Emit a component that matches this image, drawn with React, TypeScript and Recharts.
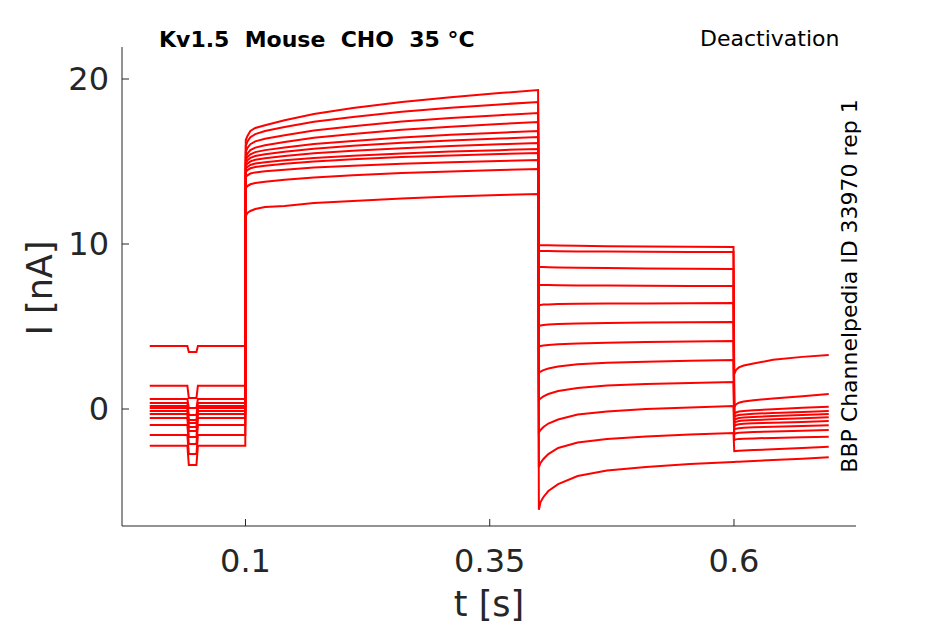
import { Line, LineChart, XAxis, YAxis } from "recharts";

// sample times per protocol segment [s]
const HOLD_T = [0.002, 0.0405, 0.042, 0.0498, 0.0513, 0.0998];
const ACT_T = [0.1003, 0.102, 0.105, 0.11, 0.12, 0.14, 0.17, 0.21, 0.26, 0.31, 0.36, 0.3995];
const TAIL_T = [0.4003, 0.402, 0.405, 0.41, 0.42, 0.44, 0.47, 0.51, 0.555, 0.5995];
const END_T = [0.6003, 0.602, 0.605, 0.61, 0.62, 0.64, 0.67, 0.697];

// holding current and the short test pulse [nA], one value per sweep
const HOLD_I = [3.82, 1.41, 0.61, 0.36, 0.18, 0.06, -0.12, -0.3, -0.55, -0.97, -1.58, -2.22];
const PULSE_I = [3.45, 0.67, 0.06, -0.36, -0.67, -0.85, -1.09, -1.33, -1.7, -2.12, -2.73, -3.39];

// activation step 0.1 - 0.4 s
const ACT_I = [
  [16.3, 16.55, 16.85, 17.03, 17.2, 17.5, 17.88, 18.24, 18.6, 18.9, 19.15, 19.33],
  [15.94, 16.21, 16.47, 16.66, 16.85, 17.09, 17.41, 17.7, 18.02, 18.26, 18.46, 18.61],
  [15.58, 15.82, 16.05, 16.22, 16.38, 16.59, 16.88, 17.14, 17.42, 17.63, 17.81, 17.94],
  [15.27, 15.48, 15.69, 15.84, 15.99, 16.18, 16.44, 16.67, 16.92, 17.11, 17.27, 17.39],
  [15.09, 15.27, 15.44, 15.57, 15.69, 15.85, 16.06, 16.25, 16.46, 16.62, 16.75, 16.85],
  [14.91, 15.07, 15.22, 15.33, 15.44, 15.59, 15.77, 15.95, 16.13, 16.28, 16.39, 16.48],
  [14.73, 14.87, 15.01, 15.11, 15.2, 15.33, 15.5, 15.65, 15.81, 15.94, 16.04, 16.12],
  [14.55, 14.67, 14.79, 14.88, 14.96, 15.07, 15.22, 15.35, 15.49, 15.6, 15.69, 15.76],
  [14.36, 14.48, 14.59, 14.67, 14.75, 14.86, 15.0, 15.13, 15.27, 15.37, 15.46, 15.52],
  [14.06, 14.16, 14.27, 14.34, 14.41, 14.5, 14.63, 14.74, 14.86, 14.96, 15.03, 15.09],
  [13.39, 13.51, 13.62, 13.7, 13.78, 13.89, 14.03, 14.16, 14.3, 14.4, 14.49, 14.55],
  [11.7, 11.88, 12.0, 12.12, 12.24, 12.3, 12.48, 12.61, 12.76, 12.88, 12.97, 13.03]
];

// tail currents 0.4 - 0.6 s
const TAIL_I = [
  [9.94, 9.93, 9.92, 9.92, 9.91, 9.89, 9.87, 9.85, 9.84, 9.82],
  [9.58, 9.57, 9.57, 9.57, 9.56, 9.55, 9.54, 9.53, 9.52, 9.52],
  [8.61, 8.6, 8.6, 8.59, 8.58, 8.56, 8.54, 8.52, 8.5, 8.48],
  [7.52, 7.52, 7.51, 7.51, 7.5, 7.49, 7.48, 7.47, 7.46, 7.45],
  [6.3, 6.31, 6.33, 6.34, 6.36, 6.38, 6.39, 6.4, 6.41, 6.42],
  [5.03, 5.06, 5.09, 5.12, 5.15, 5.19, 5.22, 5.24, 5.26, 5.27],
  [3.79, 3.82, 3.85, 3.88, 3.92, 3.97, 4.02, 4.06, 4.09, 4.12],
  [2.21, 2.27, 2.36, 2.45, 2.58, 2.71, 2.8, 2.87, 2.92, 2.97],
  [0.55, 0.64, 0.76, 0.91, 1.09, 1.27, 1.42, 1.52, 1.58, 1.64],
  [-1.42, -1.27, -1.09, -0.88, -0.64, -0.33, -0.15, 0.0, 0.09, 0.18],
  [-3.52, -3.27, -3.03, -2.73, -2.36, -2.03, -1.82, -1.67, -1.55, -1.45],
  [-6.1, -5.64, -5.33, -4.97, -4.55, -4.06, -3.73, -3.52, -3.33, -3.21]
];

// final step 0.6 - 0.7 s
const END_I = [
  [2.12, 2.36, 2.52, 2.64, 2.76, 2.98, 3.16, 3.28],
  [0.12, 0.28, 0.38, 0.45, 0.53, 0.64, 0.78, 0.91],
  [-0.3, -0.21, -0.15, -0.12, -0.07, -0.01, 0.07, 0.14],
  [-0.48, -0.41, -0.36, -0.33, -0.29, -0.24, -0.18, -0.12],
  [-0.67, -0.6, -0.55, -0.51, -0.48, -0.43, -0.36, -0.3],
  [-0.85, -0.78, -0.73, -0.7, -0.67, -0.62, -0.56, -0.5],
  [-1.03, -0.97, -0.93, -0.9, -0.87, -0.83, -0.78, -0.73],
  [-1.24, -1.19, -1.16, -1.14, -1.11, -1.08, -1.03, -0.99],
  [-1.52, -1.47, -1.44, -1.42, -1.39, -1.36, -1.31, -1.27],
  [-1.88, -1.84, -1.81, -1.8, -1.78, -1.75, -1.71, -1.68],
  [-2.55, -2.54, -2.53, -2.52, -2.49, -2.44, -2.36, -2.28],
  [-3.21, -3.2, -3.19, -3.18, -3.15, -3.09, -3.01, -2.93]
];

const X_TICKS = [0.1, 0.35, 0.6];
const Y_TICKS = [0, 10, 20];

const TIMES = [...HOLD_T, ...ACT_T, ...TAIL_T, ...END_T];
const SWEEPS = HOLD_I.map((h, i) => [
  h, h, PULSE_I[i], PULSE_I[i], h, h,
  ...ACT_I[i], ...TAIL_I[i], ...END_I[i]
]);

const data = TIMES.map((t, k) => {
  const row: Record<string, number> = { t };
  SWEEPS.forEach((sweep, i) => {
    row[`s${i}`] = sweep[k];
  });
  return row;
});

const FONT = "DejaVu Sans";
const INK = "#262626";

export default function App() {
  const tick = { fill: INK, fontSize: 32, fontFamily: FONT };

  return (
    <div style={{ position: "absolute", left: 0, top: 0, width: 945, height: 624, background: "#fff" }}>
      <LineChart width={945} height={624} data={data} margin={{ top: 47, right: 89, bottom: 38, left: 52 }}>
        <XAxis
          type="number"
          dataKey="t"
          domain={[-0.0264, 0.7249]}
          ticks={X_TICKS}
          interval={0}
          allowDataOverflow
          height={60}
          tickSize={-7}
          tickMargin={30}
          stroke={INK}
          tick={tick}
        />
        <YAxis
          type="number"
          domain={[-7.09, 21.94]}
          ticks={Y_TICKS}
          interval={0}
          allowDataOverflow
          width={70}
          tickSize={-7}
          tickMargin={20}
          stroke={INK}
          tick={tick}
        />
        {SWEEPS.map((_, i) => (
          <Line
            key={i}
            dataKey={`s${i}`}
            type="linear"
            stroke="#ff0000"
            strokeWidth={2}
            dot={false}
            isAnimationActive={false}
          />
        ))}
      </LineChart>
      <svg
        width={945}
        height={624}
        style={{ position: "absolute", left: 0, top: 0, pointerEvents: "none" }}
        fontFamily={FONT}
      >
        <text x={159} y={47} fontSize={22} fontWeight="bold" fill="#000" style={{ whiteSpace: "pre" }}>
          {"Kv1.5  Mouse  CHO  35 °C"}
        </text>
        <text x={839.5} y={46} fontSize={22} fill="#000" textAnchor="end">
          Deactivation
        </text>
        <text
          x={857}
          y={286}
          fontSize={22}
          fill="#000"
          textAnchor="middle"
          transform="rotate(-90 857 286)"
        >
          BBP Channelpedia ID 33970 rep 1
        </text>
        <text x={489} y={616} fontSize={35} fill={INK} textAnchor="middle">
          t [s]
        </text>
        <text x={52} y={288} fontSize={35} fill={INK} textAnchor="middle" transform="rotate(-90 52 288)">
          I [nA]
        </text>
      </svg>
    </div>
  );
}
